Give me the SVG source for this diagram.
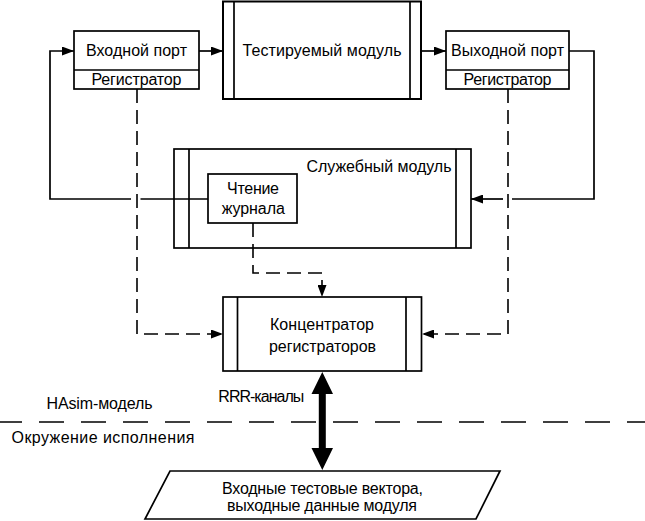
<svg xmlns="http://www.w3.org/2000/svg" width="645" height="521" viewBox="0 0 645 521">
<defs>
<style>
.box{fill:#fff;stroke:#000;stroke-width:1.7}
.ln{fill:none;stroke:#000;stroke-width:1.7}
.dl{fill:none;stroke:#000;stroke-width:1.6;stroke-dasharray:14 7}
.sep{fill:none;stroke:#000;stroke-width:1.6;stroke-dasharray:25 17;stroke-dashoffset:3}
text{font-family:"Liberation Sans",Arial,sans-serif;font-size:16px;fill:#000}
.c{text-anchor:middle}
</style>
<marker id="ah" markerUnits="userSpaceOnUse" markerWidth="12" markerHeight="9" refX="12" refY="4.5" orient="auto">
<path d="M0,0 L12,4.5 L0,9 Z" fill="#000"/>
</marker>
</defs>
<rect width="645" height="521" fill="#fff"/>

<g id="connectors">
<path class="ln" d="M208,199 H140.5"/>
<path class="ln" d="M131,199 H50 V51 H74" marker-end="url(#ah)"/>
<path class="ln" d="M199,51 H223" marker-end="url(#ah)"/>
<path class="ln" d="M421,51 H446" marker-end="url(#ah)"/>
<path class="ln" d="M569,51 H594 V199 H512"/>
<path class="ln" d="M503,199 H471" marker-end="url(#ah)"/>
<path class="dl" d="M137,89 V334 H223" marker-end="url(#ah)"/>
<path class="dl" d="M508,89 V334 H422" marker-end="url(#ah)"/>
<path class="dl" d="M253,223 V273 H322 V297" marker-end="url(#ah)"/>
<polygon points="322.3,372 333,394 325.8,394 325.8,448 333,448 322.3,470 311.5,448 318.8,448 318.8,394 311.5,394" fill="#000"/>
</g>

<g id="separator">
<path class="sep" d="M0,422 H645"/>
<text x="46.5" y="409" textLength="106">HAsim-модель</text>
<text x="11.5" y="443" textLength="183">Окружение исполнения</text>
</g>

<g id="input-port">
<rect class="box" x="74" y="31" width="125" height="58"/>
<line class="ln" x1="74" y1="70" x2="199" y2="70"/>
<text class="c" x="136.5" y="56" textLength="101">Входной порт</text>
<text class="c" x="136.5" y="85" textLength="90">Регистратор</text>
</g>

<g id="test-module">
<rect class="box" x="223" y="1.5" width="198" height="97.5" style="stroke-width:2"/>
<line class="ln" x1="234" y1="1.5" x2="234" y2="99"/>
<line class="ln" x1="410" y1="1.5" x2="410" y2="99"/>
<text class="c" x="322" y="56" textLength="159">Тестируемый модуль</text>
</g>

<g id="output-port">
<rect class="box" x="446" y="31" width="123" height="58"/>
<line class="ln" x1="446" y1="70" x2="569" y2="70"/>
<text class="c" x="507.5" y="56" textLength="113">Выходной порт</text>
<text class="c" x="507.5" y="85" textLength="88">Регистратор</text>
</g>

<g id="service-module">
<rect class="box" x="174" y="149" width="297" height="99" style="fill:none"/>
<line class="ln" x1="189" y1="149" x2="189" y2="248"/>
<line class="ln" x1="456" y1="149" x2="456" y2="248"/>
<text x="451.5" y="172" text-anchor="end" textLength="145">Служебный модуль</text>
</g>

<g id="log-reader">
<rect class="box" x="208" y="174" width="89" height="49"/>
<text class="c" x="253" y="193.5" textLength="52">Чтение</text>
<text class="c" x="253.3" y="214" textLength="63">журнала</text>
</g>

<g id="concentrator">
<rect class="box" x="223" y="297" width="198.5" height="74"/>
<line class="ln" x1="237.5" y1="297" x2="237.5" y2="371"/>
<line class="ln" x1="406" y1="297" x2="406" y2="371"/>
<text class="c" x="322" y="330" textLength="104">Концентратор</text>
<text class="c" x="322.5" y="351.5" textLength="107">регистраторов</text>
</g>

<g id="rrr-label">
<text x="218.3" y="401.7" textLength="86">RRR-каналы</text>
</g>

<g id="test-vectors">
<polygon class="box" points="170,471 500,471 476,519 145,519"/>
<text class="c" x="322.5" y="493.5" textLength="201">Входные тестовые вектора,</text>
<text class="c" x="322" y="510.5" textLength="190">выходные данные модуля</text>
</g>
</svg>
